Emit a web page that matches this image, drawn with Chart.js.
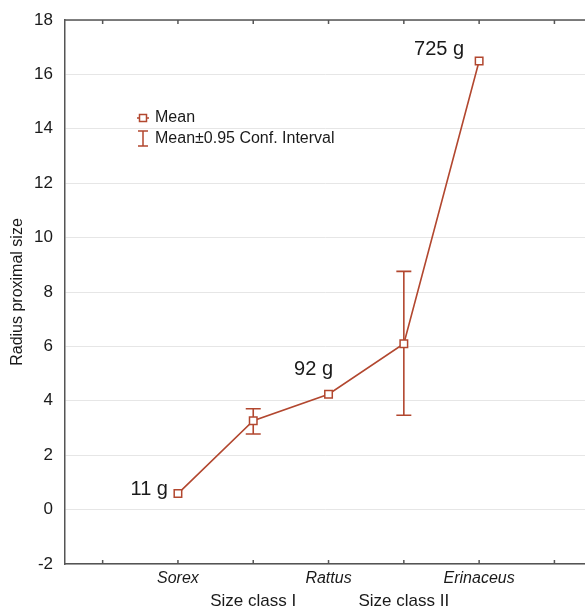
<!DOCTYPE html>
<html>
<head>
<meta charset="utf-8">
<script src="https://cdn.jsdelivr.net/npm/chart.js@4.4.0/dist/chart.umd.min.js"></script>
<style>
  html, body { margin: 0; padding: 0; background: #fff; }
  canvas { display: block; }
</style>
</head>
<body>
<canvas id="chart" width="585" height="611"></canvas>
<script>
// categories on the x axis (positions 1..5)
const categories = ["Sorex", "Size class I", "Rattus", "Size class II", "Erinaceus"];
const italicCats = [true, false, true, false, true];
// mean radius proximal size
const means = [0.59, 3.27, 4.24, 6.1, 16.49];
// 0.95 confidence interval (only for the size classes)
const ciLow = [null, 2.78, null, 3.47, null];
const ciHigh = [null, 3.71, null, 8.76, null];
// body mass notes
const massLabels = ["11 g", null, "92 g", null, "725 g"];
const yTicks = [-2, 0, 2, 4, 6, 8, 10, 12, 14, 16, 18];
const xTicks = [0, 1, 2, 3, 4, 5, 6];

const RED = "#b2472f";
const AXIS = "#555555";
const TEXT = "#1a1a1a";
const FONT = "'Liberation Sans', Arial, sans-serif";

const points = means.map((m, i) => ({ x: i + 1, y: m }));

// error bars for the confidence intervals
const errorBars = {
  id: "errorBars",
  beforeDatasetsDraw(chart) {
    const { ctx, scales: { x, y } } = chart;
    ctx.save();
    ctx.strokeStyle = RED;
    ctx.lineWidth = 1.6;
    for (let i = 0; i < means.length; i++) {
      if (ciLow[i] == null) continue;
      const px = x.getPixelForValue(i + 1);
      const lo = y.getPixelForValue(ciLow[i]);
      const hi = y.getPixelForValue(ciHigh[i]);
      ctx.beginPath();
      ctx.moveTo(px, lo); ctx.lineTo(px, hi);
      ctx.moveTo(px - 7.5, lo); ctx.lineTo(px + 7.5, lo);
      ctx.moveTo(px - 7.5, hi); ctx.lineTo(px + 7.5, hi);
      ctx.stroke();
    }
    ctx.restore();
  }
};

// frame, inner ticks, mass notes, legend
const extras = {
  id: "extras",
  afterDraw(chart) {
    const { ctx, chartArea: a, scales: { x, y } } = chart;
    ctx.save();
    ctx.strokeStyle = AXIS;
    ctx.lineWidth = 1.5;
    ctx.beginPath();
    ctx.moveTo(a.left, a.top); ctx.lineTo(a.right, a.top);
    xTicks.forEach(v => {
      const px = x.getPixelForValue(v);
      ctx.moveTo(px, a.bottom); ctx.lineTo(px, a.bottom - 4);
      ctx.moveTo(px, a.top); ctx.lineTo(px, a.top + 4);
    });
    ctx.stroke();

    // mass notes
    ctx.fillStyle = TEXT;
    ctx.font = "20px " + FONT;
    ctx.textBaseline = "middle";
    massLabels.forEach((t, i) => {
      if (!t) return;
      const px = x.getPixelForValue(i + 1);
      const py = y.getPixelForValue(means[i]);
      if (i === 0) { ctx.textAlign = "right"; ctx.fillText(t, px - 10, py - 4); }
      else if (i === 2) { ctx.textAlign = "center"; ctx.fillText(t, px - 15, py - 25); }
      else { ctx.textAlign = "right"; ctx.fillText(t, px - 15, py - 12); }
    });

    // legend
    const lx = a.left + 78, ly = a.top + 98;
    ctx.strokeStyle = RED;
    ctx.lineWidth = 1.5;
    ctx.fillStyle = "#fff";
    ctx.fillRect(lx - 3.5, ly - 3.5, 7, 7);
    ctx.strokeRect(lx - 3.5, ly - 3.5, 7, 7);
    ctx.beginPath();
    ctx.moveTo(lx - 6, ly); ctx.lineTo(lx - 3.5, ly);
    ctx.moveTo(lx + 3.5, ly); ctx.lineTo(lx + 6, ly);
    ctx.moveTo(lx, ly + 13); ctx.lineTo(lx, ly + 28);
    ctx.moveTo(lx - 5, ly + 13); ctx.lineTo(lx + 5, ly + 13);
    ctx.moveTo(lx - 5, ly + 28); ctx.lineTo(lx + 5, ly + 28);
    ctx.stroke();
    ctx.fillStyle = TEXT;
    ctx.font = "16px " + FONT;
    ctx.textAlign = "left";
    ctx.fillText("Mean", lx + 12, ly);
    ctx.fillText("Mean\u00b10.95 Conf. Interval", lx + 12, ly + 21);
    ctx.restore();
  }
};

new Chart(document.getElementById("chart"), {
  type: "line",
  data: {
    datasets: [{
      data: points,
      borderColor: RED,
      borderWidth: 1.6,
      pointStyle: "rect",
      pointRadius: 5.3,
      pointBorderWidth: 1.5,
      pointBackgroundColor: "#fff",
      pointBorderColor: RED,
      tension: 0
    }]
  },
  options: {
    responsive: false,
    animation: false,
    // the plot runs off the right edge in the original figure
    layout: { autoPadding: false, padding: { top: 20, left: 0, right: 0, bottom: 0 } },
    plugins: { legend: { display: false }, tooltip: { enabled: false } },
    scales: {
      x: {
        type: "linear",
        min: -0.5,
        max: 6.406,
        afterBuildTicks: s => { s.ticks = xTicks.map(v => ({ value: v })); },
        afterFit: s => { s.height = 47; s.paddingLeft = 0; s.paddingRight = 0; },
        grid: { display: false, drawTicks: false },
        border: { display: true, color: AXIS, width: 1.5 },
        ticks: {
          autoSkip: false,
          maxRotation: 0,
          padding: 4,
          color: TEXT,
          font: c => {
            const i = c.tick ? c.tick.value - 1 : -1;
            const it = italicCats[i] === true;
            return { family: FONT, size: it ? 16 : 17, style: it ? "italic" : "normal", lineHeight: "22px" };
          },
          callback: v => {
            const i = v - 1;
            if (i < 0 || i >= categories.length) return "";
            return italicCats[i] ? categories[i] : ["", categories[i]];
          }
        }
      },
      y: {
        min: -2,
        max: 18,
        afterBuildTicks: s => { s.ticks = yTicks.map(v => ({ value: v })); },
        afterFit: s => { s.width = 65; s.paddingTop = 0; s.paddingBottom = 0; },
        grid: { color: "#e6e6e6", lineWidth: 1, drawTicks: false },
        border: { display: true, color: AXIS, width: 1.5 },
        ticks: { padding: 12, color: TEXT, font: { family: FONT, size: 17 } },
        title: {
          display: true,
          text: "Radius proximal size",
          color: TEXT,
          font: { family: FONT, size: 16 },
          padding: { top: 8, bottom: 0 }
        }
      }
    }
  },
  plugins: [errorBars, extras]
});
</script>
</body>
</html>
